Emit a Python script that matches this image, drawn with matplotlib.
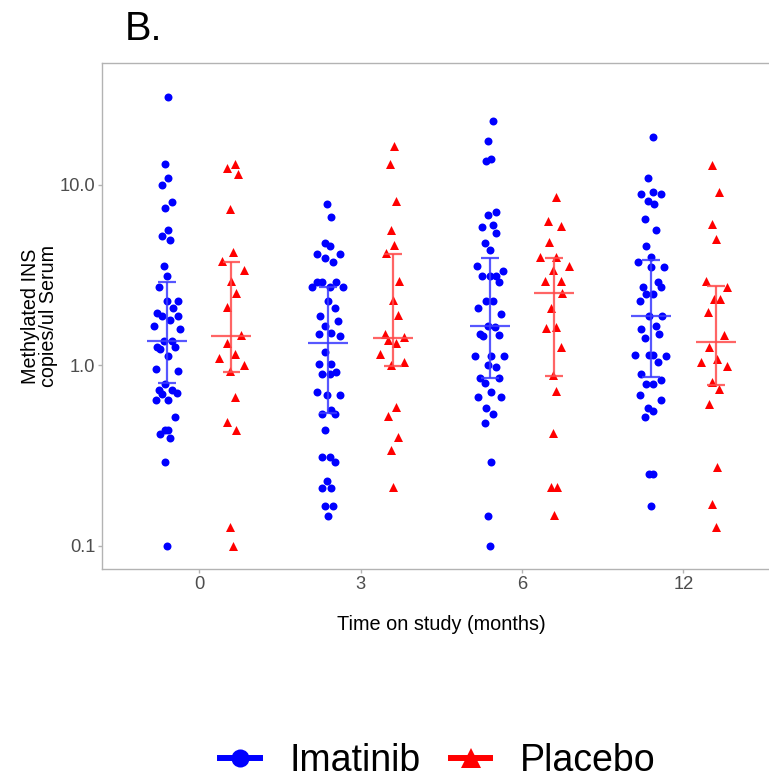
import matplotlib
matplotlib.use("Agg")
import matplotlib.pyplot as plt
from matplotlib.lines import Line2D
import numpy as np

plt.rcParams['font.family'] = ['Liberation Sans', 'DejaVu Sans']

# ---------------- data ----------------
timepoints = ["0", "3", "6", "12"]
groups = ["Imatinib", "Placebo"]

imatinib_0 = [30.6, 13.07, 10.98, 9.96, 8.08, 7.48, 5.61, 5.21, 4.97, 3.54, 3.12, 2.71,
              2.28, 2.28, 2.08, 1.94, 1.87, 1.87, 1.78, 1.66, 1.58, 1.37, 1.37, 1.27,
              1.23, 1.27, 1.127, 0.954, 0.934, 0.791, 0.727, 0.727, 0.694, 0.705, 0.645,
              0.645, 0.519, 0.438, 0.438, 0.416, 0.394, 0.291, 0.10]
imatinib_0_jit = [0.01, -0.01, 0.01, -0.03, 0.03, -0.01, 0.01, -0.03, 0.02, -0.02, 0.00, -0.05,
                  0.00, 0.07, 0.04, -0.06, -0.03, 0.07, 0.02, -0.08, 0.08, -0.02, 0.03, -0.06,
                  -0.04, 0.05, 0.01, -0.07, 0.07, -0.01, -0.05, 0.03, -0.03, 0.06, -0.07,
                  0.01, 0.05, -0.01, 0.01, -0.04, 0.02, -0.01, 0.00]

imatinib_3 = [7.88, 6.65, 4.77, 4.57, 4.16, 3.94, 4.16, 3.73, 2.91, 2.91, 2.91, 2.71, 2.71,
              2.71, 2.28, 2.08, 1.87, 1.75, 1.65, 1.49, 1.52, 1.45, 1.18, 1.02, 1.02, 0.895,
              0.895, 0.915, 0.709, 0.682, 0.683, 0.539, 0.566, 0.539, 0.438, 0.311, 0.311,
              0.290, 0.229, 0.208, 0.208, 0.1666, 0.1666, 0.1455]
imatinib_3_jit = [-0.01, 0.02, -0.02, 0.01, -0.07, -0.02, 0.07, 0.03, -0.07, -0.04, 0.05, -0.10,
                  0.01, 0.09, 0.00, 0.04, -0.05, 0.06, -0.02, -0.06, 0.02, 0.07, -0.02, -0.06,
                  0.02, -0.04, 0.01, 0.05, -0.07, -0.01, 0.07, -0.04, 0.02, 0.04, -0.02, -0.04,
                  0.01, 0.04, -0.01, -0.04, 0.02, -0.02, 0.03, 0.00]

imatinib_6 = [22.6, 17.6, 13.9, 13.5, 7.06, 6.85, 5.85, 6.02, 5.40, 4.77, 4.36, 3.54, 3.12,
              3.12, 3.12, 3.32, 2.90, 2.28, 2.28, 2.08, 1.93, 1.66, 1.63, 1.49, 1.45, 1.47,
              1.127, 1.127, 1.127, 1.00, 0.975, 0.854, 0.795, 0.854, 0.709, 0.665, 0.665,
              0.582, 0.539, 0.477, 0.291, 0.1455, 0.10]
imatinib_6_jit = [0.02, -0.01, 0.01, -0.02, 0.04, -0.01, -0.05, 0.02, 0.04, -0.03, 0.00, -0.08,
                  -0.05, 0.00, 0.04, 0.08, 0.06, -0.02, 0.02, -0.07, 0.07, -0.01, 0.03, -0.06,
                  -0.04, 0.06, -0.09, 0.01, 0.09, -0.01, 0.04, -0.06, -0.03, 0.06, 0.01, -0.07,
                  0.07, -0.02, 0.02, -0.03, 0.01, -0.01, 0.00]

imatinib_12 = [18.5, 10.98, 8.92, 9.15, 8.92, 8.12, 7.88, 6.45, 5.61, 4.57, 3.97, 3.74, 3.52,
               3.52, 2.91, 2.71, 2.71, 2.50, 2.50, 2.28, 1.87, 1.87, 1.60, 1.66, 1.41, 1.49,
               1.146, 1.137, 1.146, 1.127, 1.04, 0.895, 0.791, 0.791, 0.829, 0.685, 0.645,
               0.582, 0.560, 0.519, 0.250, 0.250, 0.166]
imatinib_12_jit = [0.01, -0.02, -0.06, 0.01, 0.06, -0.02, 0.02, -0.04, 0.03, -0.03, 0.00, -0.08,
                   0.00, 0.08, 0.04, -0.05, 0.06, -0.03, 0.01, -0.07, -0.01, 0.07, -0.06, 0.03,
                   -0.04, 0.05, -0.10, -0.01, 0.01, 0.09, 0.04, -0.06, -0.03, 0.01, 0.06, -0.07,
                   0.06, -0.02, 0.01, -0.04, -0.01, 0.01, 0.00]

placebo_0 = [12.38, 13.07, 11.5, 7.36, 4.24, 3.79, 3.37, 2.95, 2.53, 2.10, 1.47, 1.33, 1.16,
             1.10, 1.01, 0.927, 0.670, 0.483, 0.440, 0.1265, 0.10]
placebo_0_jit = [-0.03, 0.02, 0.04, -0.01, 0.01, -0.06, 0.08, 0.00, 0.03, -0.03, 0.06, -0.03,
                 0.02, -0.08, 0.08, -0.01, 0.02, -0.03, 0.03, -0.01, 0.01]

placebo_3 = [16.5, 13.02, 8.18, 5.65, 4.63, 4.20, 2.95, 2.31, 1.89, 1.49, 1.39, 1.44, 1.33,
             1.16, 1.01, 1.05, 0.590, 0.524, 0.401, 0.338, 0.2116]
placebo_3_jit = [0.01, -0.02, 0.02, -0.01, 0.01, -0.04, 0.04, 0.00, 0.03, -0.05, -0.03, 0.07,
                 0.02, -0.08, -0.01, 0.07, 0.02, -0.03, 0.03, -0.01, 0.00]

placebo_6 = [8.61, 6.29, 5.90, 4.81, 3.99, 3.99, 3.57, 3.38, 2.94, 2.94, 2.53, 2.09, 1.62,
             1.64, 1.27, 0.884, 0.721, 0.422, 0.2108, 0.2108, 0.148]
placebo_6_jit = [0.01, -0.04, 0.04, -0.03, -0.09, 0.01, 0.09, -0.01, -0.06, 0.04, 0.05, -0.02,
                 -0.05, 0.01, 0.04, -0.01, 0.01, -0.01, -0.02, 0.02, 0.00]

placebo_12 = [12.96, 9.18, 6.10, 5.04, 2.94, 2.73, 2.32, 2.32, 1.98, 1.47, 1.26, 1.05, 1.09,
              0.992, 0.805, 0.737, 0.610, 0.274, 0.1696, 0.1265]
placebo_12_jit = [-0.02, 0.02, -0.02, 0.00, -0.06, 0.07, -0.01, 0.03, -0.05, 0.05, -0.04, -0.09,
                  0.01, 0.07, -0.02, 0.02, -0.04, 0.01, -0.02, 0.00]

# summary (centre line and error bar limits) per timepoint
imatinib_mean = [1.37, 1.33, 1.66, 1.87]
imatinib_lower = [0.80, 0.544, 0.854, 0.862]
imatinib_upper = [2.91, 2.71, 3.95, 3.84]
placebo_mean = [1.45, 1.41, 2.51, 1.35]
placebo_lower = [0.915, 0.995, 0.873, 0.775]
placebo_upper = [3.73, 4.16, 3.96, 2.74]

y_ticks = [0.1, 1.0, 10.0]
y_tick_labels = ["0.1", "1.0", "10.0"]

imatinib_vals = [imatinib_0, imatinib_3, imatinib_6, imatinib_12]
imatinib_jits = [imatinib_0_jit, imatinib_3_jit, imatinib_6_jit, imatinib_12_jit]
placebo_vals = [placebo_0, placebo_3, placebo_6, placebo_12]
placebo_jits = [placebo_0_jit, placebo_3_jit, placebo_6_jit, placebo_12_jit]

# ---------------- figure ----------------
W, H = 769, 779
fig = plt.figure(figsize=(W / 100, H / 100), dpi=100)
ax_left, ax_right, ax_top, ax_bottom = 102.3, 780.2, 62.7, 569.0
ax = fig.add_axes([ax_left / W, 1 - ax_bottom / H, (ax_right - ax_left) / W, (ax_bottom - ax_top) / H])

blue = "#0000FF"
red = "#FF0000"
dodge = 0.2
mean_half = 0.124
cap_half = 0.055

series = [
    (imatinib_vals, imatinib_jits, imatinib_mean, imatinib_lower, imatinib_upper, -dodge, blue, "o", 33, "#3a3aff"),
    (placebo_vals, placebo_jits, placebo_mean, placebo_lower, placebo_upper, dodge, red, "^", 42, "#ff4a4a"),
]

for vals_list, jit_list, means, lows, ups, off, col, mk, sz, barcol in series:
    for i, (vals, jits) in enumerate(zip(vals_list, jit_list)):
        xs = i + off + np.asarray(jits)
        ax.scatter(xs, vals, s=sz, marker=mk, color=col, linewidths=0, zorder=3)
    for i in range(len(timepoints)):
        xc = i + off
        ax.vlines(xc, lows[i], ups[i], color=barcol, lw=1.6, alpha=0.85, zorder=4)
        ax.hlines([lows[i], ups[i]], xc - cap_half, xc + cap_half, color=barcol, lw=1.6, alpha=0.85, zorder=4)
        ax.hlines(means[i], xc - mean_half, xc + mean_half, color=barcol, lw=1.6, alpha=0.85, zorder=4)

ax.set_yscale("log")
ax.set_ylim(0.0743, 47.6)
ax.set_xlim(-0.6, 3.6)
ax.set_xticks(range(len(timepoints)))
ax.set_xticklabels(timepoints)
ax.set_yticks(y_ticks)
ax.set_yticklabels(y_tick_labels)
ax.yaxis.set_minor_locator(matplotlib.ticker.NullLocator())

grey = "#B3B3B3"
for sp in ax.spines.values():
    sp.set_color(grey)
    sp.set_linewidth(1.0)
ax.tick_params(axis="both", which="major", length=3, width=1.0, color=grey,
               labelsize=13.2, labelcolor="#4D4D4D", pad=2)

ax.set_xlabel("Time on study (months)", fontsize=14.3, color="black", labelpad=16)
ax.set_ylabel("Methylated INS\ncopies/ul Serum", fontsize=14.2, color="black",
              linespacing=0.88)
ax.yaxis.set_label_coords(-0.066, 0.5)

fig.text(125 / W, 1 - 40 / H, "B.", fontsize=28.5, ha="left", va="baseline", color="black")

handles = [
    Line2D([0], [0], color=blue, lw=4.3, marker="o", markersize=13, markeredgewidth=0),
    Line2D([0], [0], color=red, lw=4.3, marker="^", markersize=14, markeredgewidth=0),
]
fig.legend(handles, groups, loc="center", bbox_to_anchor=(438 / W, 1 - 761 / H),
           ncol=2, frameon=False, fontsize=27, handlelength=1.05, handletextpad=0.8,
           columnspacing=0.8, borderpad=0, borderaxespad=0)

fig.savefig("out.png", dpi=100)
